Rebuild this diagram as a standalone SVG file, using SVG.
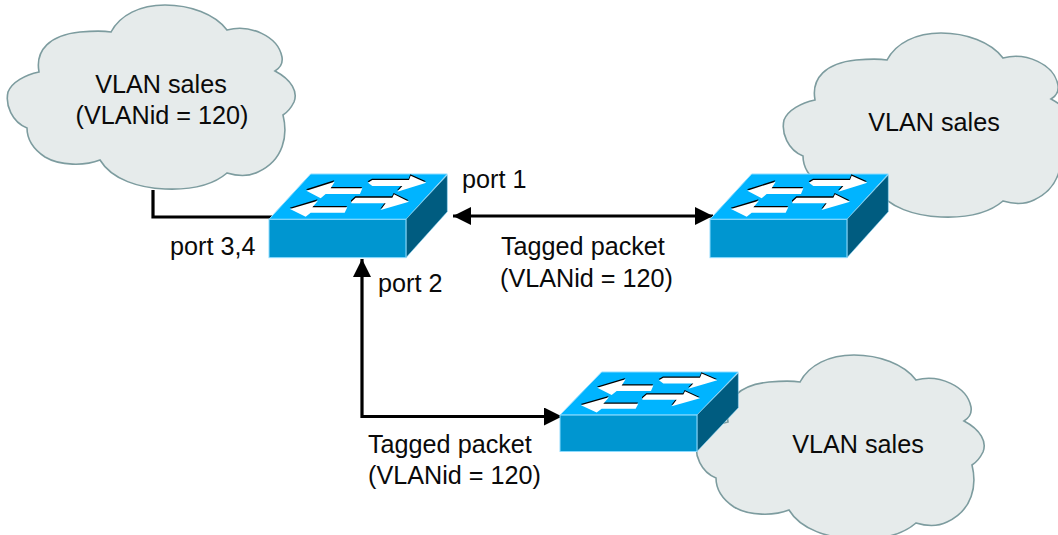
<svg xmlns="http://www.w3.org/2000/svg" width="1058" height="535" viewBox="0 0 1058 535">
<style>
text{font-family:"Liberation Sans",Arial,sans-serif;font-size:25.2px;fill:#0a0a0a}
.cloud{fill:#e6ebeb;stroke:#7d9c9f;stroke-width:1.6}
.conn{fill:none;stroke:#000;stroke-width:3.2}
.top{fill:#00b4ff;stroke:#8fdcff;stroke-width:3}
.front{fill:#0096d0;stroke:#8fdcff;stroke-width:3}
.side{fill:#005c80;stroke:#8fdcff;stroke-width:1.5}
.ar{fill:#fff;stroke:none}
.arb{fill:#000;stroke:none}
</style>
<defs>
<path id="cloud-shape" class="cloud" d="M39 72C35 50 50 35 80 32C92 31 105 31 111 32C120 15 140 5 165 5C190 5 215 14 227 30C250 24 278 36 282 57C283 63 280 68 275 71C292 80 298 92 294 102C291 108 288 112 283 115C288 135 284 160 258 172C248 177 237 176 227 173C212 186 190 190 165 189C140 188 112 180 100 160C85 166 60 166 45 157C33 149 27 140 27 128C12 122 5 105 8 92C12 82 25 75 39 72Z"/>
<g id="switch-shape" transform="scale(.3333) translate(-25,-42)">
<polygon class="top" points="25,178 150,42 560,42 436,178"/>
<polygon class="side" points="436,178 560,45 560,155 436,293"/>
<rect class="front" x="25" y="178" width="411" height="115"/>
<g class="arb" transform="translate(-1,-4)">
<polygon points="137,92 222,65 210,85 305,85 298,102 195,102 180,115"/>
<polygon points="322,68 335,60 445,60 450,47 497,68 410,95 425,78 335,78"/>
<polygon points="88,147 172,122 155,142 260,142 252,158 150,158 135,170"/>
<polygon points="272,125 285,113 395,113 400,103 445,125 360,150 375,130 272,130"/>
</g>
<g class="ar">
<polygon points="137,92 222,65 210,85 305,85 298,102 195,102 180,115"/>
<polygon points="322,68 335,60 445,60 450,47 497,68 410,95 425,78 335,78"/>
<polygon points="88,147 172,122 155,142 260,142 252,158 150,158 135,170"/>
<polygon points="272,125 285,113 395,113 400,103 445,125 360,150 375,130 272,130"/>
</g>
</g>
<marker id="head" markerUnits="userSpaceOnUse" markerWidth="18" markerHeight="18" refX="18" refY="9" orient="auto-start-reverse" viewBox="0 0 18 18">
<polygon points="0,0 18,9 0,18" fill="#000"/>
</marker>
</defs>
<g id="cloud-left"><use href="#cloud-shape"/><text x="161" y="93" text-anchor="middle">VLAN sales</text><text x="162" y="124" text-anchor="middle">(VLANid = 120)</text></g>
<g id="cloud-right"><use href="#cloud-shape" transform="translate(776,28)"/><text x="934" y="131" text-anchor="middle">VLAN sales</text></g>
<g id="cloud-bottom"><use href="#cloud-shape" transform="translate(689,350)"/><text x="858" y="453" text-anchor="middle">VLAN sales</text></g>
<g id="connectors">
<path class="conn" d="M153 190V217H272"/>
<path class="conn" d="M453 216H713" marker-start="url(#head)" marker-end="url(#head)"/>
<path class="conn" d="M362 259V416.500H562" marker-start="url(#head)" marker-end="url(#head)"/>
</g>
<g id="switch-main"><use href="#switch-shape" transform="translate(269,174)"/></g>
<g id="switch-right"><use href="#switch-shape" transform="translate(710,174)"/></g>
<g id="switch-bottom"><use href="#switch-shape" transform="translate(560,372) scale(1,.95)"/></g>
<g id="labels">
<text x="462" y="188">port 1</text>
<text x="170" y="255">port 3,4</text>
<text x="378" y="292">port 2</text>
<text x="501" y="255">Tagged packet</text>
<text x="500" y="287">(VLANid = 120)</text>
<text x="368" y="453">Tagged packet</text>
<text x="368" y="484">(VLANid = 120)</text>
</g>
</svg>
